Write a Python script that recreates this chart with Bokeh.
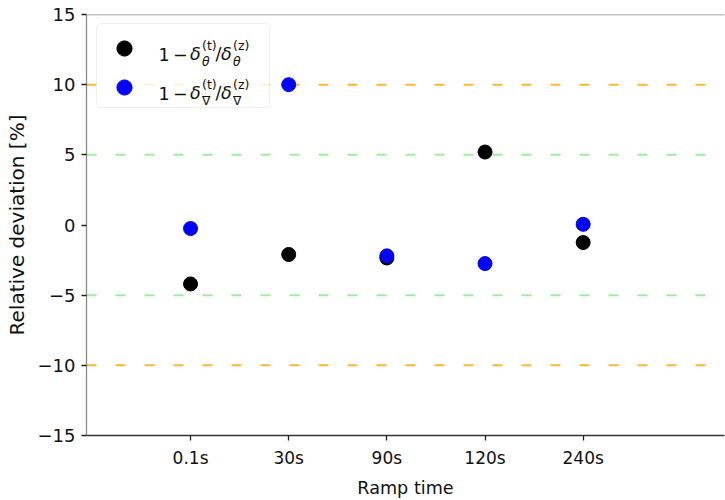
from bokeh.plotting import figure
from bokeh.models import Range1d, FixedTicker, Span, Legend, LegendItem, Label, BoxAnnotation
from bokeh.embed import file_html
from bokeh.resources import INLINE

categories = ["0.1s", "30s", "90s", "120s", "240s"]
theta_dev = [-4.2, -2.1, -2.35, 5.2, -1.25]
nabla_dev = [-0.25, 10.0, -2.2, -2.75, 0.05]
y_ticks = [-15, -10, -5, 0, 5, 10, 15]
outer_lines = [-10, 10]
inner_lines = [-5, 5]

x_pos = list(range(len(categories)))

p = figure(width=725, height=500, output_backend="svg", toolbar_location=None,
           x_range=Range1d(-1.06, 5.44), y_range=Range1d(-15, 15),
           min_border_left=86, min_border_right=1, min_border_top=14,
           min_border_bottom=64)
p.grid.visible = False
p.outline_line_color = None
p.background_fill_color = "white"
p.border_fill_color = "white"

FONT = "DejaVu Sans"

# axes
p.xaxis.ticker = FixedTicker(ticks=x_pos)
p.xaxis.major_label_overrides = {i: c for i, c in enumerate(categories)}
p.yaxis.ticker = FixedTicker(ticks=y_ticks)
p.yaxis.major_label_overrides = {t: str(t).replace("-", "\u2212") for t in y_ticks}
for ax in (p.xaxis[0], p.yaxis[0]):
    ax.minor_tick_line_color = None
    ax.major_tick_in = 0
    ax.major_tick_out = 5
    ax.major_tick_line_color = "#222222"
    ax.major_tick_line_width = 1.3
    ax.major_label_text_font = FONT
    ax.major_label_text_color = "#111111"
    ax.axis_label_text_font = FONT
    ax.axis_label_text_font_style = "normal"
    ax.axis_label_text_color = "#111111"
    ax.axis_line_width = 1.3
p.xaxis.major_label_text_font_size = "17px"
p.yaxis.major_label_text_font_size = "18px"
p.xaxis.axis_label = "Ramp time"
p.yaxis.axis_label = "Relative deviation [%]"
p.xaxis.axis_label_text_font_size = "17.6px"
p.yaxis.axis_label_text_font_size = "20px"
p.xaxis.axis_line_color = "#333333"
p.yaxis.axis_line_color = "#8a8a8a"
p.xaxis.major_label_standoff = 7
p.yaxis.major_label_standoff = 6
p.xaxis.axis_label_standoff = 7
p.yaxis.axis_label_standoff = 6

# top spine
p.add_layout(Span(location=15, dimension="width", line_color="#8a8a8a", line_width=1.3))

# reference lines
for v in outer_lines:
    p.add_layout(Span(location=v, dimension="width", line_color="orange", line_alpha=0.8,
                      line_width=2, line_dash="10 19", level="underlay"))
for v in inner_lines:
    p.add_layout(Span(location=v, dimension="width", line_color="lightgreen", line_alpha=0.9,
                      line_width=2, line_dash="10 19", level="underlay"))

FRAME_LEFT = 86
FRAME_BOTTOM = 436

# legend frame (semi-transparent white box with light border)
box = BoxAnnotation(left=96 - FRAME_LEFT, right=269 - FRAME_LEFT,
                    top=FRAME_BOTTOM - 24, bottom=FRAME_BOTTOM - 108,
                    left_units="screen", right_units="screen",
                    top_units="screen", bottom_units="screen",
                    fill_color="white", fill_alpha=0.8,
                    line_color="#cccccc", line_width=1, level="underlay")
if "border_radius" in BoxAnnotation.properties():
    box.border_radius = 4
p.add_layout(box)

r1 = p.scatter(x_pos, theta_dev, size=14, color="black")
r2 = p.scatter(x_pos, nabla_dev, size=14, color="blue")

legend = Legend(items=[LegendItem(label=" ", renderers=[r1]),
                       LegendItem(label=" ", renderers=[r2])],
                location="top_left", margin=15, padding=5, spacing=1,
                glyph_width=46, glyph_height=38, label_width=110, label_standoff=5,
                border_line_color=None, background_fill_alpha=0)
p.add_layout(legend)


def txt(xp, yp, s, size, italic=False):
    p.add_layout(Label(x=xp - FRAME_LEFT, y=FRAME_BOTTOM - yp, x_units="screen", y_units="screen",
                       text=s, text_font=FONT, text_font_size=f"{size}px",
                       text_font_style="italic" if italic else "normal",
                       text_baseline="alphabetic", text_align="left", text_color="#111111",
                       level="overlay"))


for b, sub, sub_it in [(54.7, "\u03b8", True), (93.7, "\u2207", False)]:
    txt(158, b, "1", 17.5)
    txt(172.5, b, "\u2212", 17.5)
    txt(189.5, b, "\u03b4", 17.5, True)
    txt(201.5, b - 9, "(t)", 12.5)
    txt(201.5, b + 7.3, sub, 12.5, sub_it)
    txt(215, b, "/", 17.5)
    txt(220.5, b, "\u03b4", 17.5, True)
    txt(232.5, b - 9, "(z)", 12.5)
    txt(232.5, b + 7.3, sub, 12.5, sub_it)

open("out.html", "w").write(file_html(p, INLINE))
